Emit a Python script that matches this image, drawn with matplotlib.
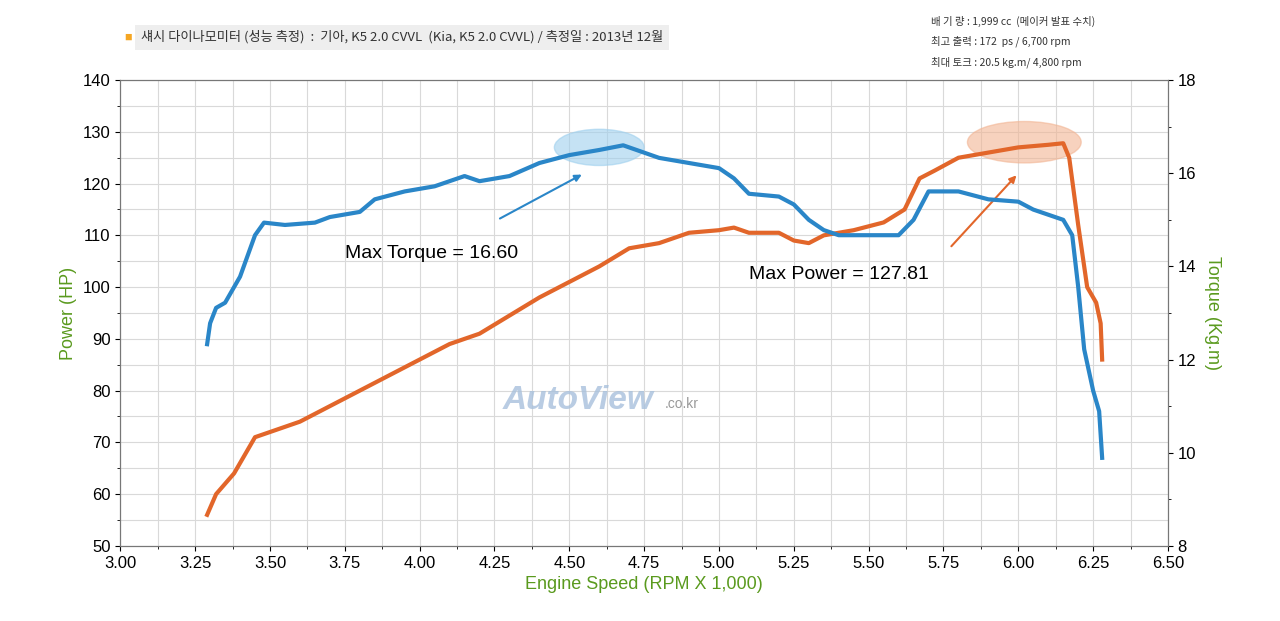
import numpy as np
import matplotlib.pyplot as plt
from matplotlib.patches import Ellipse

plt.rcParams["font.family"] = ["Liberation Sans", "Noto Sans CJK KR", "DejaVu Sans"]

GREEN = "#5a9a1e"
BLUE = "#2a86c8"
ORANGE = "#e2662a"
KR = ["Noto Sans CJK KR", "DejaVu Sans"]

# power curve (HP)
power_rpm = [3.29, 3.32, 3.38, 3.45, 3.50, 3.60, 3.70, 3.80, 3.90, 4.00, 4.10, 4.20, 4.30,
             4.40, 4.50, 4.60, 4.70, 4.80, 4.90, 5.00, 5.05, 5.10, 5.20, 5.25, 5.30, 5.35,
             5.45, 5.55, 5.62, 5.67, 5.72, 5.80, 5.90, 6.00, 6.10, 6.15, 6.17, 6.20, 6.23,
             6.26, 6.275, 6.28]
power_hp = [56, 60, 64, 71, 72, 74, 77, 80, 83, 86, 89, 91, 94.5, 98, 101, 104, 107.5,
            108.5, 110.5, 111, 111.5, 110.5, 110.5, 109, 108.5, 110, 111, 112.5, 115, 121,
            122.5, 125, 126, 127, 127.5, 127.8, 125, 112, 100, 97, 93, 86]

# torque curve (kg.m)
torque_rpm = [3.29, 3.30, 3.32, 3.35, 3.40, 3.45, 3.48, 3.55, 3.65, 3.70, 3.80, 3.85, 3.95,
              4.05, 4.15, 4.20, 4.30, 4.40, 4.50, 4.60, 4.68, 4.80, 4.90, 5.00, 5.05, 5.10,
              5.20, 5.25, 5.30, 5.35, 5.40, 5.50, 5.60, 5.65, 5.70, 5.80, 5.90, 6.00, 6.05,
              6.10, 6.15, 6.18, 6.20, 6.22, 6.25, 6.27, 6.28]
torque_kgm = [12.33, 12.78, 13.11, 13.22, 13.78, 14.67, 14.94, 14.89, 14.94, 15.06, 15.17,
              15.44, 15.61, 15.72, 15.94, 15.83, 15.94, 16.22, 16.39, 16.50, 16.60, 16.33,
              16.22, 16.11, 15.89, 15.56, 15.50, 15.33, 15.00, 14.78, 14.67, 14.67, 14.67,
              15.00, 15.61, 15.61, 15.44, 15.39, 15.22, 15.11, 15.00, 14.67, 13.56, 12.22,
              11.33, 10.89, 9.89]

fig = plt.figure(figsize=(12.8, 6.21), dpi=100)
ax = fig.add_axes([0.094, 0.121, 0.8185, 0.75])
ax2 = ax.twinx()

ax.plot(power_rpm, power_hp, color=ORANGE, lw=3, zorder=3)
ax2.plot(torque_rpm, torque_kgm, color=BLUE, lw=3, zorder=3)

ax.set_xlim(3.0, 6.5)
ax.set_ylim(50, 140)
ax2.set_ylim(8, 18)
ax.set_xticks(np.arange(3.0, 6.51, 0.25))
ax.set_xticklabels([f"{v:.2f}" for v in np.arange(3.0, 6.51, 0.25)])
ax.set_yticks(range(50, 141, 10))
ax.set_xticks(np.arange(3.0, 6.5, 0.125), minor=True)
ax.set_yticks(range(50, 141, 5), minor=True)
ax2.set_yticks(range(8, 19, 2))
ax2.set_yticks(range(8, 19, 1), minor=True)
ax.grid(True, which="both", color="#d9d9d9", lw=0.8)
ax.set_axisbelow(True)
for a in (ax, ax2):
    a.tick_params(labelsize=12, direction="out")
    for s in a.spines.values():
        s.set_color("#777777")

ax.set_ylabel("Power (HP)", color=GREEN, fontsize=13)
ax2.set_ylabel("Torque (Kg.m)", color=GREEN, fontsize=13, rotation=270, labelpad=18)
ax.set_xlabel("Engine Speed (RPM X 1,000)", color=GREEN, fontsize=13)

# highlights and annotations
ax.add_patch(Ellipse((4.60, 127), 0.30, 7, color="#9fd0ee", alpha=0.6, zorder=2))
ax.add_patch(Ellipse((6.02, 128), 0.38, 8, color="#f2b594", alpha=0.6, zorder=2))
ax.annotate("", xy=(4.55, 122), xytext=(4.26, 113),
            arrowprops=dict(arrowstyle="-|>", color=BLUE, lw=1.5))
ax.annotate("", xy=(6.00, 122), xytext=(5.77, 107.5),
            arrowprops=dict(arrowstyle="-|>", color=ORANGE, lw=1.5))
ax.text(3.75, 106.5, "Max Torque = 16.60", fontsize=14, ha="left", va="center")
ax.text(5.10, 102.5, "Max Power = 127.81", fontsize=14, ha="left", va="center")
ax.text(4.53, 78, "AutoView", fontsize=24, color="#a8c0dc", fontstyle="italic",
        fontweight="bold", ha="center", va="center", alpha=0.8)
ax.text(4.82, 77.5, ".co.kr", fontsize=10, color="#999999", ha="left", va="center")

fig.text(0.097, 0.94, "■", color="#f5a623", fontsize=9, va="center")
fig.text(0.110, 0.94,
         "섀시 다이나모미터 (성능 측정)  :  기아, K5 2.0 CVVL  (Kia, K5 2.0 CVVL) / 측정일 : 2013년 12월",
         fontsize=9.5, va="center", color="#333333", family=KR,
         bbox=dict(facecolor="#eeeeee", edgecolor="none", pad=4))
for i, t in enumerate(["배 기 량 : 1,999 cc  (메이커 발표 수치)",
                       "최고 출력 : 172  ps / 6,700 rpm",
                       "최대 토크 : 20.5 kg.m/ 4,800 rpm"]):
    fig.text(0.727, 0.966 - i * 0.033, t, fontsize=7.5, va="center", color="#333333",
             family=KR)

fig.savefig("out.png", dpi=100)
